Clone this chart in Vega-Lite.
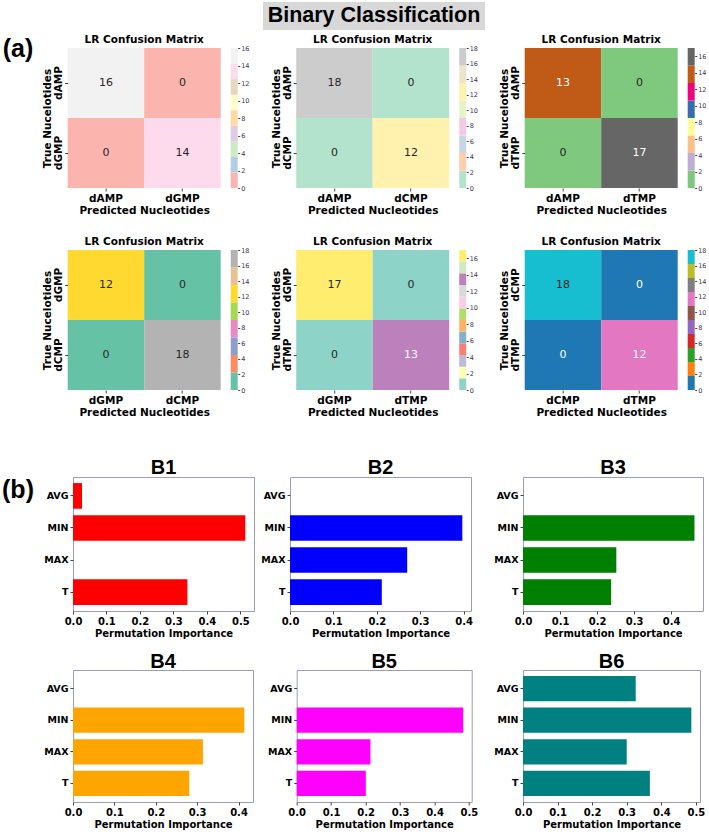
{
  "$schema": "https://vega.github.io/schema/vega-lite/v6.json",
  "padding": {"left": 2, "top": 2, "right": 0, "bottom": 0},
  "background": "white",
  "datasets": {
    "cm1": [{"actual":"dAMP","pred":"dAMP","n":16},{"actual":"dAMP","pred":"dGMP","n":0},{"actual":"dGMP","pred":"dAMP","n":0},{"actual":"dGMP","pred":"dGMP","n":14}],
    "cm2": [{"actual":"dAMP","pred":"dAMP","n":18},{"actual":"dAMP","pred":"dCMP","n":0},{"actual":"dCMP","pred":"dAMP","n":0},{"actual":"dCMP","pred":"dCMP","n":12}],
    "cm3": [{"actual":"dAMP","pred":"dAMP","n":13},{"actual":"dAMP","pred":"dTMP","n":0},{"actual":"dTMP","pred":"dAMP","n":0},{"actual":"dTMP","pred":"dTMP","n":17}],
    "cm4": [{"actual":"dGMP","pred":"dGMP","n":12},{"actual":"dGMP","pred":"dCMP","n":0},{"actual":"dCMP","pred":"dGMP","n":0},{"actual":"dCMP","pred":"dCMP","n":18}],
    "cm5": [{"actual":"dGMP","pred":"dGMP","n":17},{"actual":"dGMP","pred":"dTMP","n":0},{"actual":"dTMP","pred":"dGMP","n":0},{"actual":"dTMP","pred":"dTMP","n":13}],
    "cm6": [{"actual":"dCMP","pred":"dCMP","n":18},{"actual":"dCMP","pred":"dTMP","n":0},{"actual":"dTMP","pred":"dCMP","n":0},{"actual":"dTMP","pred":"dTMP","n":12}],
    "cb1": [{"k":0,"lo":0,"hi":1.778},{"k":1,"lo":1.778,"hi":3.556},{"k":2,"lo":3.556,"hi":5.333},{"k":3,"lo":5.333,"hi":7.111},{"k":4,"lo":7.111,"hi":8.889},{"k":5,"lo":8.889,"hi":10.667},{"k":6,"lo":10.667,"hi":12.444},{"k":7,"lo":12.444,"hi":14.222},{"k":8,"lo":14.222,"hi":16}],
    "cb2": [{"k":0,"lo":0,"hi":2.25},{"k":1,"lo":2.25,"hi":4.5},{"k":2,"lo":4.5,"hi":6.75},{"k":3,"lo":6.75,"hi":9},{"k":4,"lo":9,"hi":11.25},{"k":5,"lo":11.25,"hi":13.5},{"k":6,"lo":13.5,"hi":15.75},{"k":7,"lo":15.75,"hi":18}],
    "cb3": [{"k":0,"lo":0,"hi":2.125},{"k":1,"lo":2.125,"hi":4.25},{"k":2,"lo":4.25,"hi":6.375},{"k":3,"lo":6.375,"hi":8.5},{"k":4,"lo":8.5,"hi":10.625},{"k":5,"lo":10.625,"hi":12.75},{"k":6,"lo":12.75,"hi":14.875},{"k":7,"lo":14.875,"hi":17}],
    "cb4": [{"k":0,"lo":0,"hi":2.25},{"k":1,"lo":2.25,"hi":4.5},{"k":2,"lo":4.5,"hi":6.75},{"k":3,"lo":6.75,"hi":9},{"k":4,"lo":9,"hi":11.25},{"k":5,"lo":11.25,"hi":13.5},{"k":6,"lo":13.5,"hi":15.75},{"k":7,"lo":15.75,"hi":18}],
    "cb5": [{"k":0,"lo":0,"hi":1.417},{"k":1,"lo":1.417,"hi":2.833},{"k":2,"lo":2.833,"hi":4.25},{"k":3,"lo":4.25,"hi":5.667},{"k":4,"lo":5.667,"hi":7.083},{"k":5,"lo":7.083,"hi":8.5},{"k":6,"lo":8.5,"hi":9.917},{"k":7,"lo":9.917,"hi":11.333},{"k":8,"lo":11.333,"hi":12.75},{"k":9,"lo":12.75,"hi":14.167},{"k":10,"lo":14.167,"hi":15.583},{"k":11,"lo":15.583,"hi":17}],
    "cb6": [{"k":0,"lo":0,"hi":1.8},{"k":1,"lo":1.8,"hi":3.6},{"k":2,"lo":3.6,"hi":5.4},{"k":3,"lo":5.4,"hi":7.2},{"k":4,"lo":7.2,"hi":9},{"k":5,"lo":9,"hi":10.8},{"k":6,"lo":10.8,"hi":12.6},{"k":7,"lo":12.6,"hi":14.4},{"k":8,"lo":14.4,"hi":16.2},{"k":9,"lo":16.2,"hi":18}],
    "b1": [{"f":"AVG","v":0.027},{"f":"MIN","v":0.515},{"f":"MAX","v":0},{"f":"T","v":0.342}],
    "b2": [{"f":"AVG","v":0},{"f":"MIN","v":0.397},{"f":"MAX","v":0.27},{"f":"T","v":0.2115}],
    "b3": [{"f":"AVG","v":0},{"f":"MIN","v":0.463},{"f":"MAX","v":0.252},{"f":"T","v":0.238}],
    "b4": [{"f":"AVG","v":0},{"f":"MIN","v":0.414},{"f":"MAX","v":0.314},{"f":"T","v":0.281}],
    "b5": [{"f":"AVG","v":0},{"f":"MIN","v":0.4835},{"f":"MAX","v":0.214},{"f":"T","v":0.2007}],
    "b6": [{"f":"AVG","v":0.326},{"f":"MIN","v":0.487},{"f":"MAX","v":0.3},{"f":"T","v":0.367}]
  },
  "vconcat": [
    {
      "vconcat": [
        {
          "hconcat": [
            {"width": 258, "height": 28, "data": {"values": []}, "mark": "text", "encoding": {}},
            {"width": 222, "height": 28, "view": {"fill": "#d8d8d8", "stroke": null},
             "data": {"values": [{"t": "Binary Classification"}]},
             "mark": {"type": "text", "font": "Liberation Sans", "fontSize": 21.5, "fontWeight": "bold", "color": "black"},
             "encoding": {"text": {"field": "t"}}}
          ],
          "spacing": 2
        },
        {
          "hconcat": [
            {"width": 30, "height": 34, "data": {"values": [{"t": "(a)"}]},
             "mark": {"type": "text", "font": "Liberation Sans", "fontSize": 25, "fontWeight": "bold", "color": "black", "dy": -16},
             "encoding": {"text": {"field": "t"}}},
            {
              "vconcat": [
                {
                  "hconcat": [
                    {"hconcat": [
                      {"width": 153, "height": 140, "title": {"text": "LR Confusion Matrix", "fontSize": 10.5, "offset": 3}, "data": {"name": "cm1"},
                       "encoding": {"x": {"field": "pred", "type": "nominal", "sort": ["dAMP","dGMP"], "scale": {"paddingInner": 0, "paddingOuter": 0}, "axis": {"title": "Predicted Nucleotides", "labelAngle": 0, "labelFontSize": 10.5, "titleFontSize": 10.5}},
                                    "y": {"field": "actual", "type": "nominal", "sort": ["dAMP","dGMP"], "scale": {"paddingInner": 0, "paddingOuter": 0}, "axis": {"title": "True Nucelotides", "labelAngle": -90, "labelFontSize": 10.5, "titleFontSize": 10.5, "labelPadding": 1, "titlePadding": 1}}},
                       "layer": [
                         {"mark": "rect", "encoding": {"color": {"field": "n", "type": "quantitative", "scale": {"type": "quantize", "domain": [0,16], "nice": false, "range": ["#fbb4ae","#b3cde3","#ccebc5","#decbe4","#fed9a6","#ffffcc","#e5d8bd","#fddaec","#f2f2f2"]}, "legend": null}}},
                         {"mark": {"type": "text", "fontSize": 11, "font": "DejaVu Sans"}, "encoding": {"text": {"field": "n", "type": "quantitative"}, "color": {"value": "#262626"}}}
                       ]},
                      {"width": 7, "height": 140, "data": {"name": "cb1"}, "mark": "rect",
                       "encoding": {"y": {"field": "lo", "type": "quantitative", "scale": {"domain": [0,16], "nice": false}, "axis": {"orient": "right", "title": null, "values": [0,2,4,6,8,10,12,14,16], "labelFontSize": 6.5, "labelFontWeight": "normal", "labelColor": "#333355", "tickSize": 2, "labelPadding": 1, "labelFlush": false}},
                                    "y2": {"field": "hi"},
                                    "color": {"field": "k", "type": "ordinal", "scale": {"range": ["#fbb4ae","#b3cde3","#ccebc5","#decbe4","#fed9a6","#ffffcc","#e5d8bd","#fddaec","#f2f2f2"]}, "legend": null}}}
                    ], "spacing": 10, "resolve": {"scale": {"color": "independent"}}},
                    {"hconcat": [
                      {"width": 153, "height": 140, "title": {"text": "LR Confusion Matrix", "fontSize": 10.5, "offset": 3}, "data": {"name": "cm2"},
                       "encoding": {"x": {"field": "pred", "type": "nominal", "sort": ["dAMP","dCMP"], "scale": {"paddingInner": 0, "paddingOuter": 0}, "axis": {"title": "Predicted Nucleotides", "labelAngle": 0, "labelFontSize": 10.5, "titleFontSize": 10.5}},
                                    "y": {"field": "actual", "type": "nominal", "sort": ["dAMP","dCMP"], "scale": {"paddingInner": 0, "paddingOuter": 0}, "axis": {"title": "True Nucelotides", "labelAngle": -90, "labelFontSize": 10.5, "titleFontSize": 10.5, "labelPadding": 1, "titlePadding": 1}}},
                       "layer": [
                         {"mark": "rect", "encoding": {"color": {"field": "n", "type": "quantitative", "scale": {"type": "quantize", "domain": [0,18], "nice": false, "range": ["#b3e2cd","#fdcdac","#cbd5e8","#f4cae4","#e6f5c9","#fff2ae","#f1e2cc","#cccccc"]}, "legend": null}}},
                         {"mark": {"type": "text", "fontSize": 11, "font": "DejaVu Sans"}, "encoding": {"text": {"field": "n", "type": "quantitative"}, "color": {"value": "#262626"}}}
                       ]},
                      {"width": 7, "height": 140, "data": {"name": "cb2"}, "mark": "rect",
                       "encoding": {"y": {"field": "lo", "type": "quantitative", "scale": {"domain": [0,18], "nice": false}, "axis": {"orient": "right", "title": null, "values": [0,2,4,6,8,10,12,14,16,18], "labelFontSize": 6.5, "labelFontWeight": "normal", "labelColor": "#333355", "tickSize": 2, "labelPadding": 1, "labelFlush": false}},
                                    "y2": {"field": "hi"},
                                    "color": {"field": "k", "type": "ordinal", "scale": {"range": ["#b3e2cd","#fdcdac","#cbd5e8","#f4cae4","#e6f5c9","#fff2ae","#f1e2cc","#cccccc"]}, "legend": null}}}
                    ], "spacing": 10, "resolve": {"scale": {"color": "independent"}}},
                    {"hconcat": [
                      {"width": 153, "height": 140, "title": {"text": "LR Confusion Matrix", "fontSize": 10.5, "offset": 3}, "data": {"name": "cm3"},
                       "encoding": {"x": {"field": "pred", "type": "nominal", "sort": ["dAMP","dTMP"], "scale": {"paddingInner": 0, "paddingOuter": 0}, "axis": {"title": "Predicted Nucleotides", "labelAngle": 0, "labelFontSize": 10.5, "titleFontSize": 10.5}},
                                    "y": {"field": "actual", "type": "nominal", "sort": ["dAMP","dTMP"], "scale": {"paddingInner": 0, "paddingOuter": 0}, "axis": {"title": "True Nucelotides", "labelAngle": -90, "labelFontSize": 10.5, "titleFontSize": 10.5, "labelPadding": 1, "titlePadding": 1}}},
                       "layer": [
                         {"mark": "rect", "encoding": {"color": {"field": "n", "type": "quantitative", "scale": {"type": "quantize", "domain": [0,17], "nice": false, "range": ["#7fc97f","#beaed4","#fdc086","#ffff99","#386cb0","#f0027f","#bf5b17","#666666"]}, "legend": null}}},
                         {"mark": {"type": "text", "fontSize": 11, "font": "DejaVu Sans"}, "encoding": {"text": {"field": "n", "type": "quantitative"}, "color": {"condition": {"test": "datum.n >= 13", "value": "white"}, "value": "#262626"}}}
                       ]},
                      {"width": 7, "height": 140, "data": {"name": "cb3"}, "mark": "rect",
                       "encoding": {"y": {"field": "lo", "type": "quantitative", "scale": {"domain": [0,17], "nice": false}, "axis": {"orient": "right", "title": null, "values": [0,2,4,6,8,10,12,14,16], "labelFontSize": 6.5, "labelFontWeight": "normal", "labelColor": "#333355", "tickSize": 2, "labelPadding": 1, "labelFlush": false}},
                                    "y2": {"field": "hi"},
                                    "color": {"field": "k", "type": "ordinal", "scale": {"range": ["#7fc97f","#beaed4","#fdc086","#ffff99","#386cb0","#f0027f","#bf5b17","#666666"]}, "legend": null}}}
                    ], "spacing": 10, "resolve": {"scale": {"color": "independent"}}}
                  ],
                  "spacing": 20.5,
                  "resolve": {"scale": {"color": "independent"}}
                },
                {
                  "hconcat": [
                    {"hconcat": [
                      {"width": 153, "height": 140, "title": {"text": "LR Confusion Matrix", "fontSize": 10.5, "offset": 3}, "data": {"name": "cm4"},
                       "encoding": {"x": {"field": "pred", "type": "nominal", "sort": ["dGMP","dCMP"], "scale": {"paddingInner": 0, "paddingOuter": 0}, "axis": {"title": "Predicted Nucleotides", "labelAngle": 0, "labelFontSize": 10.5, "titleFontSize": 10.5}},
                                    "y": {"field": "actual", "type": "nominal", "sort": ["dGMP","dCMP"], "scale": {"paddingInner": 0, "paddingOuter": 0}, "axis": {"title": "True Nucelotides", "labelAngle": -90, "labelFontSize": 10.5, "titleFontSize": 10.5, "labelPadding": 1, "titlePadding": 1}}},
                       "layer": [
                         {"mark": "rect", "encoding": {"color": {"field": "n", "type": "quantitative", "scale": {"type": "quantize", "domain": [0,18], "nice": false, "range": ["#66c2a5","#fc8d62","#8da0cb","#e78ac3","#a6d854","#ffd92f","#e5c494","#b3b3b3"]}, "legend": null}}},
                         {"mark": {"type": "text", "fontSize": 11, "font": "DejaVu Sans"}, "encoding": {"text": {"field": "n", "type": "quantitative"}, "color": {"value": "#262626"}}}
                       ]},
                      {"width": 7, "height": 140, "data": {"name": "cb4"}, "mark": "rect",
                       "encoding": {"y": {"field": "lo", "type": "quantitative", "scale": {"domain": [0,18], "nice": false}, "axis": {"orient": "right", "title": null, "values": [0,2,4,6,8,10,12,14,16,18], "labelFontSize": 6.5, "labelFontWeight": "normal", "labelColor": "#333355", "tickSize": 2, "labelPadding": 1, "labelFlush": false}},
                                    "y2": {"field": "hi"},
                                    "color": {"field": "k", "type": "ordinal", "scale": {"range": ["#66c2a5","#fc8d62","#8da0cb","#e78ac3","#a6d854","#ffd92f","#e5c494","#b3b3b3"]}, "legend": null}}}
                    ], "spacing": 10, "resolve": {"scale": {"color": "independent"}}},
                    {"hconcat": [
                      {"width": 153, "height": 140, "title": {"text": "LR Confusion Matrix", "fontSize": 10.5, "offset": 3}, "data": {"name": "cm5"},
                       "encoding": {"x": {"field": "pred", "type": "nominal", "sort": ["dGMP","dTMP"], "scale": {"paddingInner": 0, "paddingOuter": 0}, "axis": {"title": "Predicted Nucleotides", "labelAngle": 0, "labelFontSize": 10.5, "titleFontSize": 10.5}},
                                    "y": {"field": "actual", "type": "nominal", "sort": ["dGMP","dTMP"], "scale": {"paddingInner": 0, "paddingOuter": 0}, "axis": {"title": "True Nucelotides", "labelAngle": -90, "labelFontSize": 10.5, "titleFontSize": 10.5, "labelPadding": 1, "titlePadding": 1}}},
                       "layer": [
                         {"mark": "rect", "encoding": {"color": {"field": "n", "type": "quantitative", "scale": {"type": "quantize", "domain": [0,17], "nice": false, "range": ["#8dd3c7","#ffffb3","#bebada","#fb8072","#80b1d3","#fdb462","#b3de69","#fccde5","#d9d9d9","#bc80bd","#ccebc5","#ffed6f"]}, "legend": null}}},
                         {"mark": {"type": "text", "fontSize": 11, "font": "DejaVu Sans"}, "encoding": {"text": {"field": "n", "type": "quantitative"}, "color": {"condition": {"test": "datum.n == 13", "value": "white"}, "value": "#262626"}}}
                       ]},
                      {"width": 7, "height": 140, "data": {"name": "cb5"}, "mark": "rect",
                       "encoding": {"y": {"field": "lo", "type": "quantitative", "scale": {"domain": [0,17], "nice": false}, "axis": {"orient": "right", "title": null, "values": [0,2,4,6,8,10,12,14,16], "labelFontSize": 6.5, "labelFontWeight": "normal", "labelColor": "#333355", "tickSize": 2, "labelPadding": 1, "labelFlush": false}},
                                    "y2": {"field": "hi"},
                                    "color": {"field": "k", "type": "ordinal", "scale": {"range": ["#8dd3c7","#ffffb3","#bebada","#fb8072","#80b1d3","#fdb462","#b3de69","#fccde5","#d9d9d9","#bc80bd","#ccebc5","#ffed6f"]}, "legend": null}}}
                    ], "spacing": 10, "resolve": {"scale": {"color": "independent"}}},
                    {"hconcat": [
                      {"width": 153, "height": 140, "title": {"text": "LR Confusion Matrix", "fontSize": 10.5, "offset": 3}, "data": {"name": "cm6"},
                       "encoding": {"x": {"field": "pred", "type": "nominal", "sort": ["dCMP","dTMP"], "scale": {"paddingInner": 0, "paddingOuter": 0}, "axis": {"title": "Predicted Nucleotides", "labelAngle": 0, "labelFontSize": 10.5, "titleFontSize": 10.5}},
                                    "y": {"field": "actual", "type": "nominal", "sort": ["dCMP","dTMP"], "scale": {"paddingInner": 0, "paddingOuter": 0}, "axis": {"title": "True Nucelotides", "labelAngle": -90, "labelFontSize": 10.5, "titleFontSize": 10.5, "labelPadding": 1, "titlePadding": 1}}},
                       "layer": [
                         {"mark": "rect", "encoding": {"color": {"field": "n", "type": "quantitative", "scale": {"type": "quantize", "domain": [0,18], "nice": false, "range": ["#1f77b4","#ff7f0e","#2ca02c","#d62728","#9467bd","#8c564b","#e377c2","#7f7f7f","#bcbd22","#17becf"]}, "legend": null}}},
                         {"mark": {"type": "text", "fontSize": 11, "font": "DejaVu Sans"}, "encoding": {"text": {"field": "n", "type": "quantitative"}, "color": {"condition": {"test": "datum.n != 18", "value": "white"}, "value": "#262626"}}}
                       ]},
                      {"width": 7, "height": 140, "data": {"name": "cb6"}, "mark": "rect",
                       "encoding": {"y": {"field": "lo", "type": "quantitative", "scale": {"domain": [0,18], "nice": false}, "axis": {"orient": "right", "title": null, "values": [0,2,4,6,8,10,12,14,16,18], "labelFontSize": 6.5, "labelFontWeight": "normal", "labelColor": "#333355", "tickSize": 2, "labelPadding": 1, "labelFlush": false}},
                                    "y2": {"field": "hi"},
                                    "color": {"field": "k", "type": "ordinal", "scale": {"range": ["#1f77b4","#ff7f0e","#2ca02c","#d62728","#9467bd","#8c564b","#e377c2","#7f7f7f","#bcbd22","#17becf"]}, "legend": null}}}
                    ], "spacing": 10, "resolve": {"scale": {"color": "independent"}}}
                  ],
                  "spacing": 20.5,
                  "resolve": {"scale": {"color": "independent"}}
                }
              ],
              "spacing": 20,
              "resolve": {"scale": {"color": "independent"}}
            }
          ],
          "spacing": 7.7,
          "resolve": {"scale": {"color": "independent"}}
        }
      ],
      "spacing": 4,
      "resolve": {"scale": {"color": "independent"}}
    },
    {
      "hconcat": [
        {"width": 30, "height": 70, "data": {"values": [{"t": "(b)"}]},
         "mark": {"type": "text", "font": "Liberation Sans", "fontSize": 25, "fontWeight": "bold", "color": "black", "dy": -22},
         "encoding": {"text": {"field": "t"}}},
        {
          "vconcat": [
            {
              "hconcat": [
                {"hconcat": [
                  {"width": 181, "height": 134, "title": {"text": "B1", "font": "Liberation Sans", "fontSize": 20, "offset": -1}, "view": {"stroke": "#9c9cb8"}, "data": {"name": "b1"},
                   "mark": {"type": "bar", "color": "#ff0000"},
                   "encoding": {"y": {"field": "f", "type": "nominal", "sort": ["AVG","MIN","MAX","T"], "scale": {"paddingInner": 0.2, "paddingOuter": 0.19}, "axis": {"title": null, "labelFontSize": 9.5}},
                                "x": {"field": "v", "type": "quantitative", "scale": {"domain": [0, 0.541], "nice": false}, "axis": {"title": "Permutation Importance", "values": [0,0.1,0.2,0.3,0.4,0.5], "format": ".1f", "labelFontSize": 10, "titleFontSize": 10, "labelFlush": false}}}},
                  {"width": 181, "height": 134, "title": {"text": "B2", "font": "Liberation Sans", "fontSize": 20, "offset": -1}, "view": {"stroke": "#9c9cb8"}, "data": {"name": "b2"},
                   "mark": {"type": "bar", "color": "#0000ff"},
                   "encoding": {"y": {"field": "f", "type": "nominal", "sort": ["AVG","MIN","MAX","T"], "scale": {"paddingInner": 0.2, "paddingOuter": 0.19}, "axis": {"title": null, "labelFontSize": 9.5}},
                                "x": {"field": "v", "type": "quantitative", "scale": {"domain": [0, 0.417], "nice": false}, "axis": {"title": "Permutation Importance", "values": [0,0.1,0.2,0.3,0.4], "format": ".1f", "labelFontSize": 10, "titleFontSize": 10, "labelFlush": false}}}}
                ], "spacing": 5},
                {"width": 180, "height": 134, "title": {"text": "B3", "font": "Liberation Sans", "fontSize": 20, "offset": -1}, "view": {"stroke": "#9c9cb8"}, "data": {"name": "b3"},
                 "mark": {"type": "bar", "color": "#008000"},
                 "encoding": {"y": {"field": "f", "type": "nominal", "sort": ["AVG","MIN","MAX","T"], "scale": {"paddingInner": 0.2, "paddingOuter": 0.19}, "axis": {"title": null, "labelFontSize": 9.5}},
                              "x": {"field": "v", "type": "quantitative", "scale": {"domain": [0, 0.486], "nice": false}, "axis": {"title": "Permutation Importance", "values": [0,0.1,0.2,0.3,0.4], "format": ".1f", "labelFontSize": 10, "titleFontSize": 10, "labelFlush": false}}}}
              ],
              "spacing": 20
            },
            {
              "hconcat": [
                {"hconcat": [
                  {"width": 180, "height": 132, "title": {"text": "B4", "font": "Liberation Sans", "fontSize": 20, "offset": -2}, "view": {"stroke": "#9c9cb8"}, "data": {"name": "b4"},
                   "mark": {"type": "bar", "color": "#ffa500"},
                   "encoding": {"y": {"field": "f", "type": "nominal", "sort": ["AVG","MIN","MAX","T"], "scale": {"paddingInner": 0.2, "paddingOuter": 0.19}, "axis": {"title": null, "labelFontSize": 9.5}},
                                "x": {"field": "v", "type": "quantitative", "scale": {"domain": [0, 0.435], "nice": false}, "axis": {"title": "Permutation Importance", "values": [0,0.1,0.2,0.3,0.4], "format": ".1f", "labelFontSize": 10, "titleFontSize": 10, "labelFlush": false}}}},
                  {"width": 175, "height": 132, "title": {"text": "B5", "font": "Liberation Sans", "fontSize": 20, "offset": -2}, "view": {"stroke": "#9c9cb8"}, "data": {"name": "b5"},
                   "mark": {"type": "bar", "color": "#ff00ff"},
                   "encoding": {"y": {"field": "f", "type": "nominal", "sort": ["AVG","MIN","MAX","T"], "scale": {"paddingInner": 0.2, "paddingOuter": 0.19}, "axis": {"title": null, "labelFontSize": 9.5}},
                                "x": {"field": "v", "type": "quantitative", "scale": {"domain": [0, 0.508], "nice": false}, "axis": {"title": "Permutation Importance", "values": [0,0.1,0.2,0.3,0.4,0.5], "format": ".1f", "labelFontSize": 10, "titleFontSize": 10, "labelFlush": false}}}}
                ], "spacing": 12.7},
                {"width": 177, "height": 132, "title": {"text": "B6", "font": "Liberation Sans", "fontSize": 20, "offset": -2}, "view": {"stroke": "#9c9cb8"}, "data": {"name": "b6"},
                 "mark": {"type": "bar", "color": "#008080"},
                 "encoding": {"y": {"field": "f", "type": "nominal", "sort": ["AVG","MIN","MAX","T"], "scale": {"paddingInner": 0.2, "paddingOuter": 0.19}, "axis": {"title": null, "labelFontSize": 9.5}},
                              "x": {"field": "v", "type": "quantitative", "scale": {"domain": [0, 0.512], "nice": false}, "axis": {"title": "Permutation Importance", "values": [0,0.1,0.2,0.3,0.4,0.5], "format": ".1f", "labelFontSize": 10, "titleFontSize": 10, "labelFlush": false}}}}
              ],
              "spacing": 14
            }
          ],
          "spacing": 12
        }
      ],
      "spacing": 9
    }
  ],
  "spacing": 39,
  "resolve": {"scale": {"color": "independent"}},
  "config": {
    "view": {"stroke": null},
    "font": "DejaVu Sans",
    "axis": {"grid": false, "domain": false, "labelFont": "DejaVu Sans", "titleFont": "DejaVu Sans", "labelFontWeight": "bold", "titleFontWeight": "bold", "labelColor": "black", "titleColor": "black", "tickColor": "#444444", "tickSize": 3, "labelPadding": 2, "titlePadding": 2},
    "title": {"font": "DejaVu Sans", "fontWeight": "bold", "color": "black", "anchor": "middle"}
  }
}
